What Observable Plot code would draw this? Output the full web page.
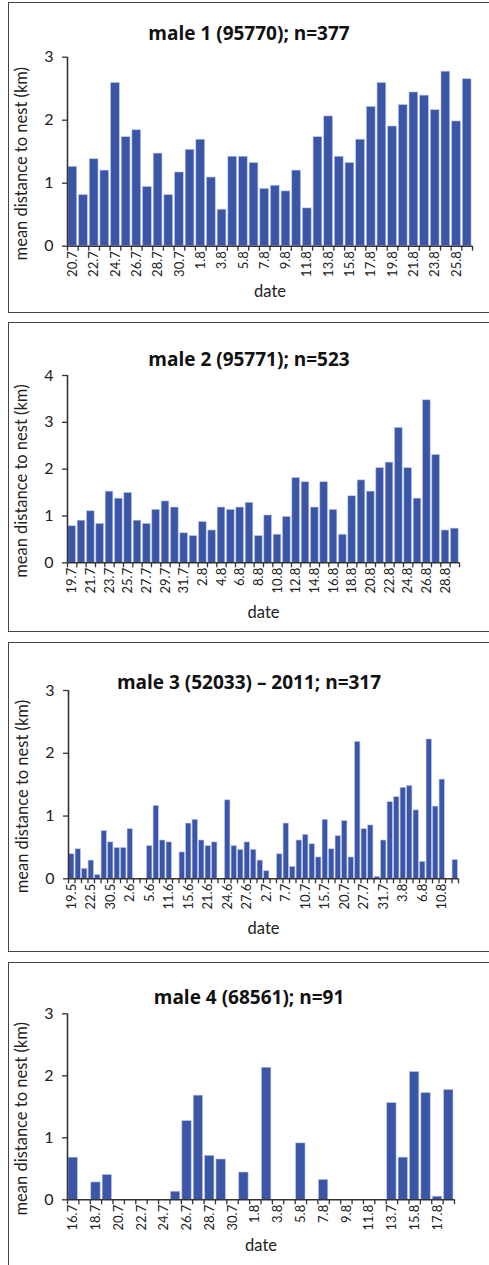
<!DOCTYPE html>
<html><head><meta charset="utf-8">
<script src="https://cdn.jsdelivr.net/npm/d3@7"></script>
<script src="https://cdn.jsdelivr.net/npm/@observablehq/plot@0.6"></script>
<style>
body{margin:0;background:#fff;overflow:hidden;}
#page{position:relative;width:489px;height:1265px;overflow:hidden;font-family:Lato,sans-serif;background:#fff;}
.box{position:absolute;left:8px;width:490px;border:1px solid #444;box-sizing:border-box;}
.title{position:absolute;left:8px;width:482px;text-align:center;font-weight:bold;font-size:19px;color:#111;line-height:22px;font-family:"Open Sans",Lato,sans-serif;}
.plotwrap{position:absolute;left:0;}
</style></head><body><div id="page"></div>
<script>
// ---------- data ----------
const titles = ["male 1 (95770); n=377", "male 2 (95771); n=523", "male 3 (52033) – 2011; n=317", "male 4 (68561); n=91"];

const dates1 = ["20.7","21.7","22.7","23.7","24.7","25.7","26.7","27.7","28.7","29.7","30.7","31.7",
  "1.8","2.8","3.8","4.8","5.8","6.8","7.8","8.8","9.8","10.8","11.8","12.8","13.8","14.8","15.8","16.8","17.8","18.8","19.8","20.8","21.8","22.8","23.8","24.8","25.8","26.8"];
const male1 = [1.26,0.81,1.38,1.20,2.59,1.73,1.84,0.94,1.47,0.81,1.17,1.53,1.69,1.09,0.58,1.42,1.42,1.32,0.91,0.96,0.87,1.20,0.60,1.73,2.06,1.42,1.32,1.69,2.21,2.59,1.90,2.24,2.44,2.39,2.16,2.77,1.98,2.65];

const dates2 = ["19.7","20.7","21.7","22.7","23.7","24.7","25.7","26.7","27.7","28.7","29.7","30.7","31.7",
  "1.8","2.8","3.8","4.8","5.8","6.8","7.8","8.8","9.8","10.8","11.8","12.8","13.8","14.8","15.8","16.8","17.8","18.8","19.8","20.8","21.8","22.8","23.8","24.8","25.8","26.8","27.8","28.8","29.8"];
const male2 = [0.78,0.90,1.10,0.83,1.52,1.37,1.49,0.90,0.83,1.13,1.31,1.18,0.63,0.57,0.87,0.69,1.18,1.13,1.18,1.28,0.57,1.01,0.60,0.98,1.81,1.72,1.18,1.72,1.13,0.60,1.42,1.76,1.52,2.02,2.14,2.88,2.02,1.37,3.47,2.30,0.69,0.73];

// male 3: 60 category slots, labelled every third slot; null = empty slot
const labels3 = ["19.5","22.5","30.5","2.6","5.6","11.6","15.6","21.6","24.6","27.6","2.7","7.7","10.7","15.7","20.7","27.7","31.7","3.8","6.8","10.8"];
const male3 = [0.39,0.47,0.16,0.29,0.06,0.76,0.58,0.49,0.49,0.79,null,null,0.52,1.16,0.61,0.58,null,0.42,0.88,0.94,
  0.61,0.52,0.58,null,1.25,0.52,0.46,0.58,0.46,0.29,0.12,null,0.39,0.88,0.19,0.61,0.70,0.55,0.34,0.94,
  0.47,0.68,0.92,0.34,2.18,0.79,0.85,0.03,0.61,1.22,1.30,1.45,1.48,1.09,0.27,2.22,1.15,1.58,null,0.30];

const dates4 = ["16.7","17.7","18.7","19.7","20.7","21.7","22.7","23.7","24.7","25.7","26.7","27.7","28.7","29.7","30.7","31.7",
  "1.8","2.8","3.8","4.8","5.8","6.8","7.8","8.8","9.8","10.8","11.8","12.8","13.7","14.8","15.8","16.8","17.8","18.8"];
const male4 = [0.68,null,0.28,0.40,null,null,null,null,null,0.13,1.27,1.68,0.71,0.65,null,0.44,null,2.13,null,null,0.91,null,0.32,null,null,null,null,null,1.56,0.68,2.06,1.72,0.05,1.77];

const yTicks3 = [0,1,2,3];
const yTicks4 = [0,1,2,3,4];

// ---------- drawing ----------
const BAR = "#3b56a6";
const page = document.getElementById("page");

function panel(o) {
  const {values, labelOf, labelStep, yTicks, title, boxTop, boxBottom, yTop, y0, xStart, xEnd, titleY, dateDy} = o;
  const n = values.length;
  const data = values.map((v, i) => ({i, v})).filter(d => d.v != null && d.v > 0);
  const H = boxBottom - boxTop;
  const yMax = yTicks[yTicks.length - 1];

  const box = document.createElement("div");
  box.className = "box";
  box.style.top = boxTop + "px";
  box.style.height = H + "px";
  page.appendChild(box);

  const t = document.createElement("div");
  t.className = "title";
  t.textContent = title;
  t.style.top = (titleY - 12) + "px";
  page.appendChild(t);

  const labelPos = [];
  for (let i = 0; i < n; i += labelStep) labelPos.push(i + 0.5);

  const chart = Plot.plot({
    width: 489,
    height: H,
    marginLeft: xStart,
    marginRight: 489 - xEnd,
    marginTop: yTop - boxTop,
    marginBottom: boxBottom - y0,
    x: {domain: [0, n]},
    y: {domain: [0, yMax]},
    style: {fontFamily: "Lato, sans-serif", background: "transparent", overflow: "visible", color: "#222"},
    marks: [
      Plot.rectY(data, {x1: d => d.i + 0.09, x2: d => d.i + 0.91, y: "v", fill: BAR, stroke: "#b9c4e8", strokeWidth: 0.6}),
      Plot.axisY({ticks: yTicks, tickSize: 5, tickPadding: 9, fontSize: 16, label: null, tickFormat: d => String(d), stroke: "#333", strokeWidth: 1.3}),
      Plot.axisX({ticks: d3.range(0, n + 1), tickSize: 5, tickFormat: () => "", label: null, stroke: "#333", strokeWidth: 1.3}),
      Plot.axisX({ticks: labelPos, tickSize: 0, tickPadding: 5, tickRotate: -90, fontSize: 13, label: null, tickFormat: p => labelOf(Math.floor(p))}),
      Plot.ruleX([0], {stroke: "#333", strokeWidth: 1.6}),
      Plot.ruleY([0], {stroke: "#333", strokeWidth: 1.6}),
      Plot.text(["mean distance to nest (km)"], {frameAnchor: "left", textAnchor: "middle", dx: -46, dy: 12, rotate: -90, fontSize: 16.5, fill: "#222"}),
      Plot.text(["date"], {frameAnchor: "bottom", dy: dateDy, fontSize: 16.5, fill: "#222"})
    ]
  });
  const wrap = document.createElement("div");
  wrap.className = "plotwrap";
  wrap.style.top = boxTop + "px";
  wrap.appendChild(chart);
  page.appendChild(wrap);
}

panel({values: male1, labelOf: i => dates1[i], labelStep: 2, yTicks: yTicks3, title: titles[0],
  boxTop: 2, boxBottom: 313, yTop: 56.7, y0: 245.7, xStart: 67, xEnd: 472, titleY: 34, dateDy: 51});
panel({values: male2, labelOf: i => dates2[i], labelStep: 2, yTicks: yTicks4, title: titles[1],
  boxTop: 322, boxBottom: 632, yTop: 375, y0: 562.3, xStart: 67, xEnd: 459, titleY: 360, dateDy: 55});
panel({values: male3, labelOf: i => labels3[i / 3], labelStep: 3, yTicks: yTicks3, title: titles[2],
  boxTop: 642, boxBottom: 952, yTop: 690, y0: 878.3, xStart: 68, xEnd: 458, titleY: 683, dateDy: 55});
panel({values: male4, labelOf: i => dates4[i], labelStep: 2, yTicks: yTicks3, title: titles[3],
  boxTop: 962, boxBottom: 1290, yTop: 1013.3, y0: 1199.3, xStart: 67, xEnd: 454, titleY: 998, dateDy: 51});
</script>
</body></html>
